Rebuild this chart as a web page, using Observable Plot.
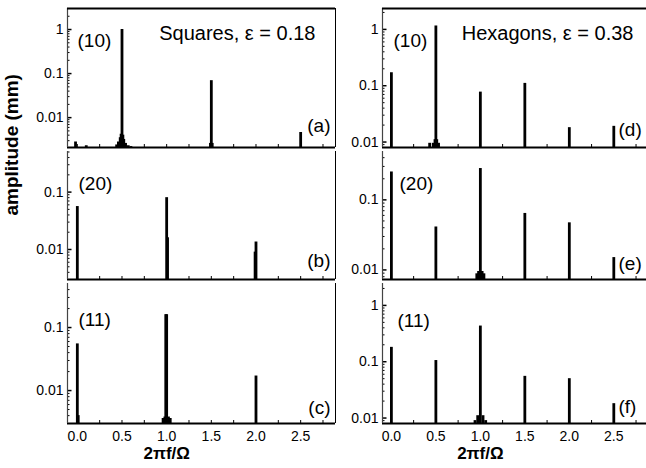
<!DOCTYPE html>
<html>
<head>
<meta charset="utf-8">
<script src="https://cdn.jsdelivr.net/npm/d3@7"></script>
<script src="https://cdn.jsdelivr.net/npm/@observablehq/plot@0.6"></script>
<style>
html, body { margin: 0; padding: 0; background: #fff; overflow: hidden; }
#chart { position: relative; width: 646px; height: 468px; overflow: hidden; background: #fff; }
#chart svg { position: absolute; }
</style>
</head>
<body>
<div id="chart"></div>
<script>
// ---------- Data ----------
// Squares, eps = 0.18
const freqA = [-0.02, 0.10, 0.44, 0.46, 0.48, 0.49, 0.50, 0.51, 0.52, 0.54, 0.57, 0.60, 1.49, 1.50, 1.51, 2.50];
const ampA  = [0.0028, 0.0023, 0.0024, 0.0028, 0.0035, 0.0042, 1.0, 0.0040, 0.0032, 0.0026, 0.0023, 0.0022, 0.0026, 0.069, 0.0026, 0.0046];
const freqB = [0.00, 1.00, 1.01, 1.99, 2.00];
const ampB  = [0.056, 0.080, 0.016, 0.009, 0.0135];
const freqC = [0.00, 0.01, 0.96, 0.98, 0.99, 1.00, 1.02, 1.04, 2.00];
const ampC  = [0.055, 0.004, 0.0036, 0.0038, 0.16, 0.16, 0.0038, 0.0036, 0.017];
// Hexagons, eps = 0.38
const freqD = [0.00, 0.43, 0.47, 0.49, 0.50, 0.51, 0.53, 1.00, 1.50, 2.00, 2.50];
const ampD  = [0.17, 0.0095, 0.0095, 0.011, 1.15, 0.011, 0.0095, 0.077, 0.11, 0.018, 0.019];
const freqE = [0.00, 0.50, 0.96, 0.98, 1.00, 1.02, 1.04, 1.50, 2.00, 2.50];
const ampE  = [0.25, 0.041, 0.0088, 0.0095, 0.28, 0.0095, 0.0088, 0.064, 0.047, 0.015];
const freqF = [0.00, 0.50, 0.94, 0.97, 1.00, 1.03, 1.06, 1.50, 2.00, 2.50];
const ampF  = [0.18, 0.105, 0.009, 0.011, 0.43, 0.011, 0.009, 0.055, 0.05, 0.018];

// Tick values and labels
const xTickLabels = [0, 0.5, 1.0, 1.5, 2.0, 2.5];
const xMinorTicks = [0, 0.25, 0.5, 0.75, 1.0, 1.25, 1.5, 1.75, 2.0, 2.25, 2.5, 2.75];
const yTicks3 = [0.01, 0.1, 1];
const yTicks2 = [0.01, 0.1];
const tags = ["(10)", "(20)", "(11)"];
const letters = ["(a)", "(b)", "(c)", "(d)", "(e)", "(f)"];
const titles = ["Squares, \u03b5 = 0.18", "Hexagons, \u03b5 = 0.38"];
const yTitle = "amplitude (mm)";
const xTitle = "2\u03c0f/\u03a9";
const xTitleAt = 1.0;

// Axis domains
const xDomL = [-0.11, 2.89];
const xDomR = [-0.10, 2.89];
const yDoms = {
  a: [0.0021, 3.0], b: [0.003, 0.51], c: [0.003, 0.5],
  d: [0.008, 2.35], e: [0.0073, 0.49], f: [0.008, 2.45]
};

const FONT = '"Liberation Sans", Arial, Helvetica, sans-serif';

function minorTicks([lo, hi]) {
  const out = [];
  for (let e = Math.floor(Math.log10(lo)); e <= Math.ceil(Math.log10(hi)); e++) {
    for (let m = 2; m <= 9; m++) {
      const v = m * Math.pow(10, e);
      if (v > lo && v < hi) out.push(v);
    }
  }
  return out;
}

const cols = {
  L: {left: 0, width: 340, ml: 67, mr: 5, xDom: xDomL},
  R: {left: 320, width: 328, ml: 62, mr: 0, xDom: xDomR}
};
const rows = [
  {top: 0, height: 149, mt: 8, mb: 2},
  {top: 149, height: 132, mt: 2, mb: 2},
  {top: 281, height: 187, mt: 2, mb: 45}
];

function makePanel(p) {
  const c = cols[p.col], r = rows[p.row];
  const data = p.freq.map((f, i) => ({f, a: p.amp[i]}));
  const fw = c.width - c.ml - c.mr;
  const fh = r.height - r.mt - r.mb;
  const [yMin, yMax] = p.yDom;
  const marks = [
    Plot.ruleX(data, {x: "f", y1: () => yMin, y2: "a", stroke: "#000", strokeWidth: 2.8}),
    Plot.tickY(minorTicks(p.yDom), {y: d => d, insetRight: fw - 2.5, stroke: "#000", strokeWidth: 1}),
    Plot.tickY(p.yTicks, {y: d => d, insetRight: fw - 4.5, stroke: "#000", strokeWidth: 1.5}),
    Plot.tickX(xMinorTicks, {x: d => d, insetTop: fh - 3, stroke: "#000", strokeWidth: 1}),
    Plot.axisY(p.yTicks, {tickSize: 0, tickPadding: 4, fontSize: 14, tickFormat: d => String(d), label: null, fill: "#000"}),
    Plot.ruleY([yMin], {stroke: "#000", strokeWidth: 2}),
    Plot.ruleX([c.xDom[0]], {stroke: "#444", strokeWidth: 1.2}),
    Plot.ruleX([c.xDom[1]], {stroke: "#000", strokeWidth: 1}),
    Plot.text([p.tag], {frameAnchor: "top-left", dx: p.tagDx, dy: p.tagDy, fontSize: 19, textAnchor: "start", lineAnchor: "top", fill: "#000"}),
    Plot.text([p.letter], {frameAnchor: "bottom-right", dx: p.letDx, dy: p.letDy, fontSize: 19, textAnchor: p.letAnchor, lineAnchor: "middle", fill: "#000"})
  ];
  if (p.row === 0) {
    marks.push(Plot.ruleY([yMax], {stroke: "#000", strokeWidth: 2}));
    marks.push(Plot.text([p.title], {frameAnchor: "top-right", dx: p.titleDx, dy: 17, fontSize: 20, textAnchor: "end", lineAnchor: "top", fill: "#000"}));
  }
  if (p.row === 2) {
    marks.push(Plot.axisX(xTickLabels, {tickSize: 0, tickPadding: 8, fontSize: 14, tickFormat: d3.format(".1f"), label: null, fill: "#000"}));
    marks.push(Plot.text([xTitle], {x: () => xTitleAt, frameAnchor: "bottom", dy: 30, fontSize: 17, fontWeight: "bold", lineAnchor: "middle", fill: "#000"}));
  }
  if (p.row === 1 && p.col === "L") {
    marks.push(Plot.text([yTitle], {frameAnchor: "left", dx: -56, rotate: -90, fontSize: 19, fontWeight: "bold", fill: "#000"}));
  }
  const svg = Plot.plot({
    width: c.width, height: r.height,
    marginLeft: c.ml, marginRight: c.mr, marginTop: r.mt, marginBottom: r.mb,
    x: p.row === 2 ? {domain: c.xDom} : {domain: c.xDom, axis: null},
    y: {type: "log", domain: p.yDom},
    style: {background: "none", overflow: "visible", fontFamily: FONT, color: "#000"},
    marks
  });
  svg.style.left = c.left + "px";
  svg.style.top = r.top + "px";
  document.getElementById("chart").appendChild(svg);
}

const panels = [
  {col: "L", row: 0, freq: freqA, amp: ampA, yDom: yDoms.a, yTicks: yTicks3, tag: tags[0], tagDx: 10, tagDy: 25, letter: letters[0], letDx: -5, letDy: -22, letAnchor: "end", title: titles[0], titleDx: -20},
  {col: "L", row: 1, freq: freqB, amp: ampB, yDom: yDoms.b, yTicks: yTicks2, tag: tags[1], tagDx: 11, tagDy: 25, letter: letters[1], letDx: -5, letDy: -19, letAnchor: "end"},
  {col: "L", row: 2, freq: freqC, amp: ampC, yDom: yDoms.c, yTicks: yTicks2, tag: tags[2], tagDx: 11, tagDy: 29, letter: letters[2], letDx: -5, letDy: -16, letAnchor: "end"},
  {col: "R", row: 0, freq: freqD, amp: ampD, yDom: yDoms.d, yTicks: yTicks3, tag: tags[0], tagDx: 11, tagDy: 25, letter: letters[3], letDx: -30, letDy: -18, letAnchor: "start", title: titles[1], titleDx: -15},
  {col: "R", row: 1, freq: freqE, amp: ampE, yDom: yDoms.e, yTicks: yTicks2, tag: tags[1], tagDx: 17, tagDy: 25, letter: letters[4], letDx: -30, letDy: -16, letAnchor: "start"},
  {col: "R", row: 2, freq: freqF, amp: ampF, yDom: yDoms.f, yTicks: yTicks3, tag: tags[2], tagDx: 15, tagDy: 30, letter: letters[5], letDx: -30, letDy: -17, letAnchor: "start"}
];
panels.forEach(makePanel);
</script>
</body>
</html>
